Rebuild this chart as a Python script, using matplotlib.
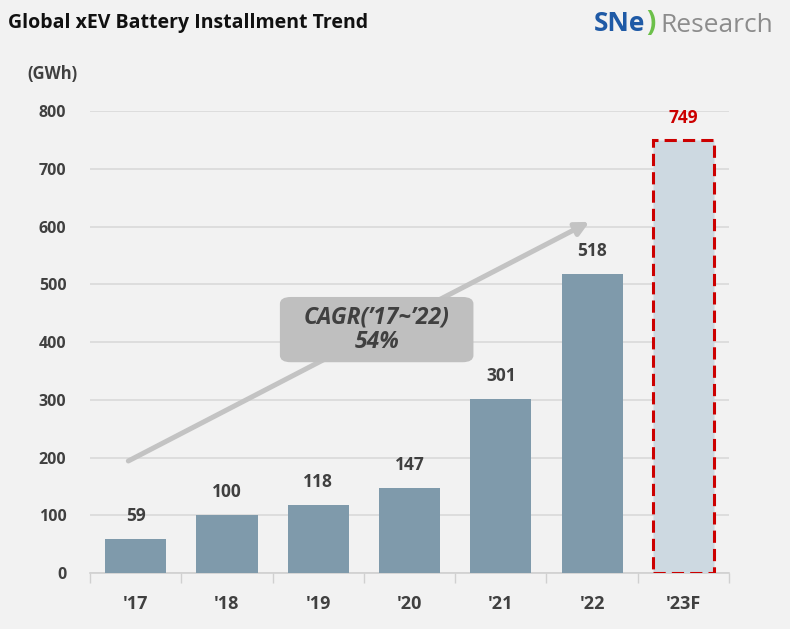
import matplotlib
matplotlib.use("Agg")
import matplotlib.pyplot as plt
from matplotlib.patches import FancyBboxPatch

categories = ["'17", "'18", "'19", "'20", "'21", "'22", "'23F"]
values = [59, 100, 118, 147, 301, 518, 749]
yticks = [0, 100, 200, 300, 400, 500, 600, 700, 800]

BG = "#f2f2f2"
BAR = "#7f9aab"
FORE = "#cdd9e1"
RED = "#cc0000"
TXT = "#404040"

plt.rcParams['font.family'] = ['Open Sans', 'DejaVu Sans']

fig = plt.figure(figsize=(7.9, 6.29), dpi=100, facecolor=BG)
ax = fig.add_axes([0.1139, 0.089, 0.809, 0.7345], facecolor=BG)

x = list(range(len(categories)))
n = len(categories)
for i, v in enumerate(values):
    if i == n - 1:
        ax.bar(i, v, width=0.67, color=FORE, edgecolor=RED, linewidth=2.2,
               linestyle=(0, (4, 2)), zorder=3)
        ax.text(i, v + 24, str(v), ha='center', va='bottom', fontsize=12.5,
                fontweight='bold', color=RED, zorder=4)
    else:
        ax.bar(i, v, width=0.67, color=BAR, zorder=3)
        ax.text(i, v + 24, str(v), ha='center', va='bottom', fontsize=12.5,
                fontweight='bold', color=TXT, zorder=4)

ax.set_xlim(-0.5, n - 0.5)
ax.set_ylim(0, 800)
ax.set_yticks(yticks)
ax.set_yticklabels([str(t) for t in yticks], fontsize=11.5, fontweight='bold', color=TXT)
ax.set_xticks(x)
ax.set_xticklabels(categories, fontsize=13, fontweight='bold', color=TXT)
ax.tick_params(axis='y', length=0, pad=17)
ax.tick_params(axis='x', length=0, pad=16)
ax.set_xticks([i - 0.5 for i in range(n + 1)], minor=True)
ax.tick_params(axis='x', which='minor', length=7, color='#d0d0d0', width=1)
for s in ['top', 'right', 'left']:
    ax.spines[s].set_visible(False)
ax.spines['bottom'].set_color('#d0d0d0')
ax.spines['bottom'].set_linewidth(1.2)
ax.grid(axis='y', color='#d9d9d9', linewidth=1.2, zorder=0)
ax.set_axisbelow(True)

# CAGR arrow
ax.annotate('', xy=(4.97, 608), xytext=(-0.08, 194),
            arrowprops=dict(arrowstyle='-|>,head_length=0.8,head_width=0.4',
                            color='#c3c3c3', lw=3.6, shrinkA=0, shrinkB=0),
            zorder=2)
box = FancyBboxPatch((1.58, 365), 2.12, 113,
                     boxstyle='round,pad=0,rounding_size=0.12',
                     mutation_aspect=100, facecolor='#bfbfbf', edgecolor='none', zorder=2.5)
ax.add_patch(box)
ax.text(2.64, 421, "CAGR(\u201917~\u201922)\n54%", ha='center', va='center',
        fontsize=16.5, fontstyle='italic', fontweight='bold', color=TXT,
        linespacing=1.0, zorder=4)

# Titles
fig.text(0.010, 0.963, "Global xEV Battery Installment Trend", fontsize=14,
         fontweight='bold', color='#111111', ha='left', va='center')
fig.text(0.035, 0.883, "(GWh)", fontsize=12, fontweight='bold', color=TXT,
         ha='left', va='center')

# Logo
fig.text(0.752, 0.963, "SNe", fontsize=19, fontweight='bold', color='#1f5aa6',
         ha='left', va='center')
fig.text(0.818, 0.963, ")", fontsize=20, fontweight='bold', color='#6cc04a',
         ha='left', va='center')
fig.text(0.836, 0.960, "Research", fontsize=19, color='#8c8c8c',
         ha='left', va='center')

fig.savefig("out.png", dpi=100, facecolor=BG)
